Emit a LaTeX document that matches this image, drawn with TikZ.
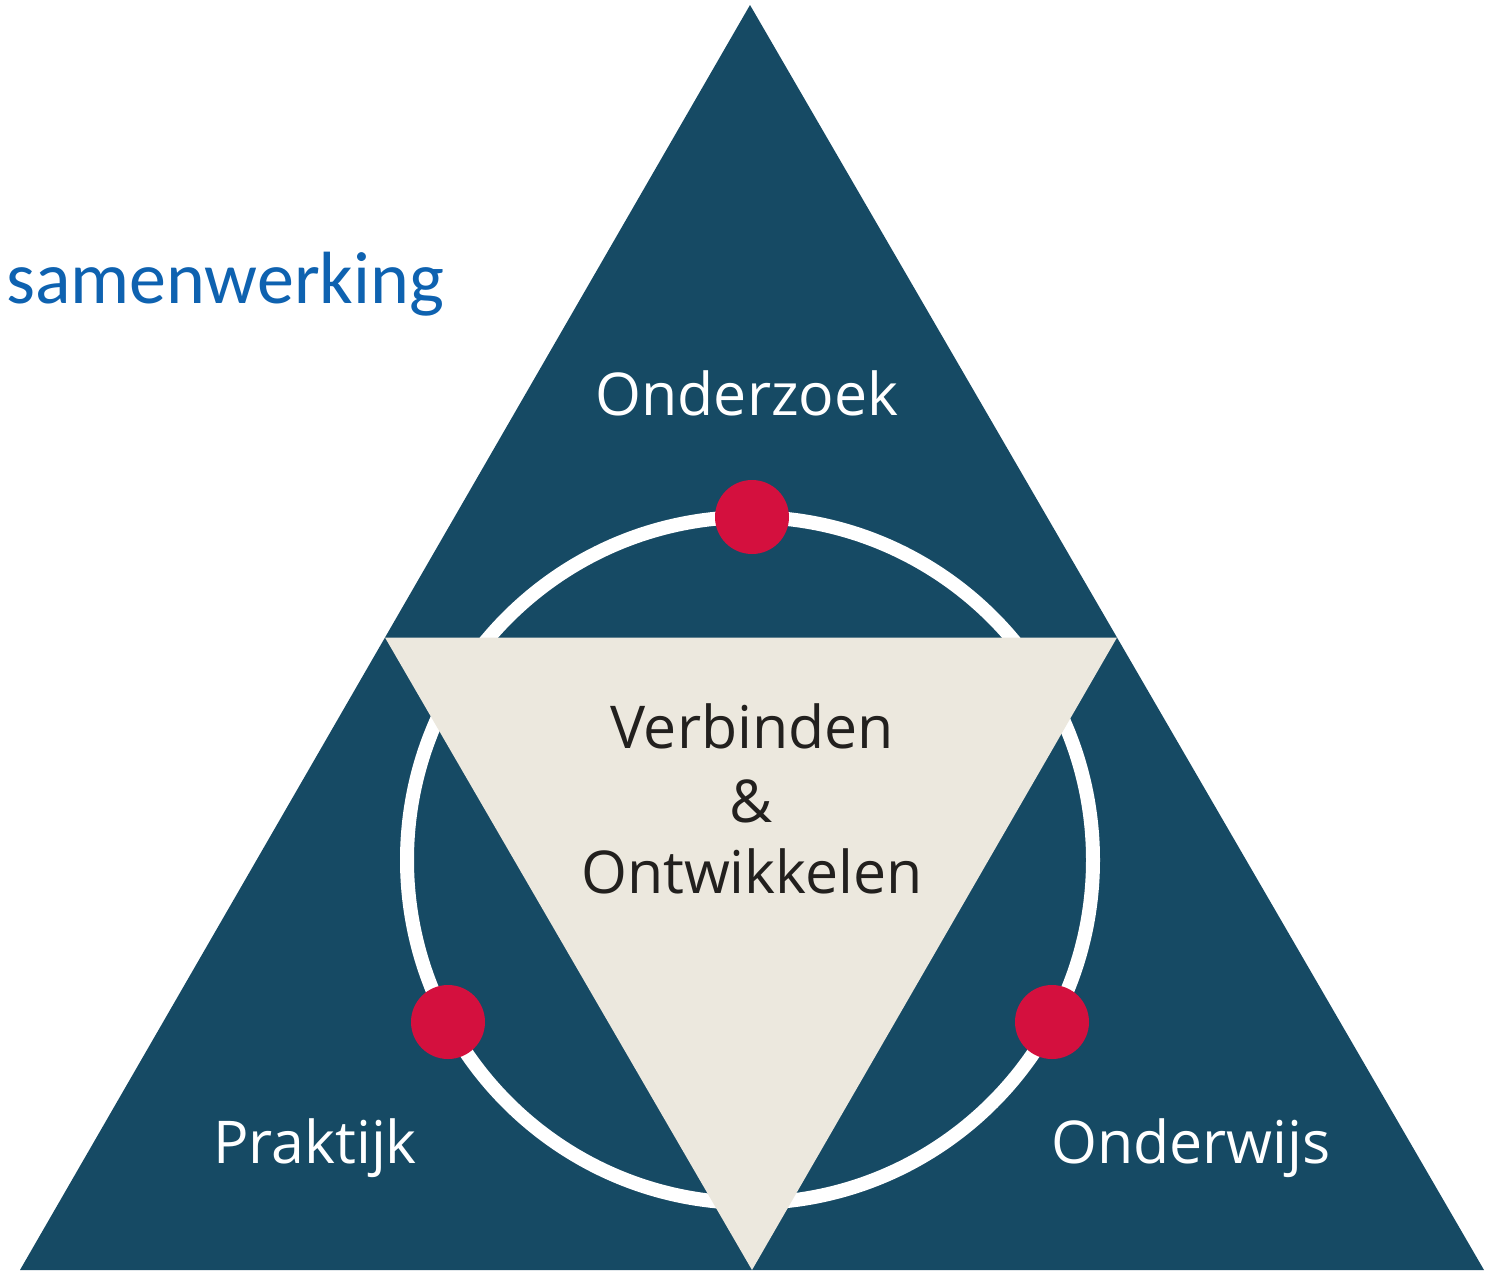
\documentclass[tikz,border=0pt]{standalone}
\usepackage{fontspec}
\usetikzlibrary{calc}
\setmainfont{Open Sans}
\newfontfamily\calfont{Carlito}
\definecolor{navy}{RGB}{22,74,100}
\definecolor{cream}{RGB}{236,232,222}
\definecolor{dotred}{RGB}{212,16,62}
\definecolor{txtblue}{RGB}{14,98,176}
\definecolor{txtdark}{RGB}{34,32,30}
\tikzset{
  label/.style={anchor=base, inner sep=0pt, text=white, font=\fontsize{59}{72}\selectfont},
  dot/.style={circle, fill=dotred, minimum size=74pt, inner sep=0pt},
}
\begin{document}
\begin{tikzpicture}[x=1pt,y=-1pt]
\useasboundingbox[fill=white] (0,0) rectangle (1491,1270);
% outer triangle
\coordinate (A) at (750,5);
\coordinate (B) at (20,1270);
\coordinate (C) at (1484,1270);
\fill[navy] (A) -- (B) -- (C) -- cycle;
% ring
\coordinate (O) at (750,860);
\draw[white, line width=14pt] (O) circle[radius=343];
% inner triangle (medial)
\coordinate (L) at ($(A)!0.5!(B)$);
\coordinate (R) at ($(A)!0.5!(C)$);
\coordinate (D) at ($(B)!0.5!(C)$);
\fill[cream] (L) -- (R) -- (D) -- cycle;
% dots
\node[dot] (d1) at (752,517) {};
\node[dot] (d2) at (448,1022) {};
\node[dot] (d3) at (1052,1022) {};
% texts
\node[label] (t1) at (747,415) {Onderzoek};
\node[label] (t2) at (315,1163) {Praktijk};
\node[label] (t3) at (1191,1163) {Onderwijs};
\node[label, text=txtdark] (c1) at (752,748) {Verbinden};
\node[label, text=txtdark] (c2) at (751,822) {\&};
\node[label, text=txtdark] (c3) at (752,893) {Ontwikkelen};
\node[anchor=base west, inner sep=0pt, text=txtblue, font=\calfont\fontsize{74}{88}\selectfont] (sw) at (6,303) {samenwerking};
\end{tikzpicture}
\end{document}
